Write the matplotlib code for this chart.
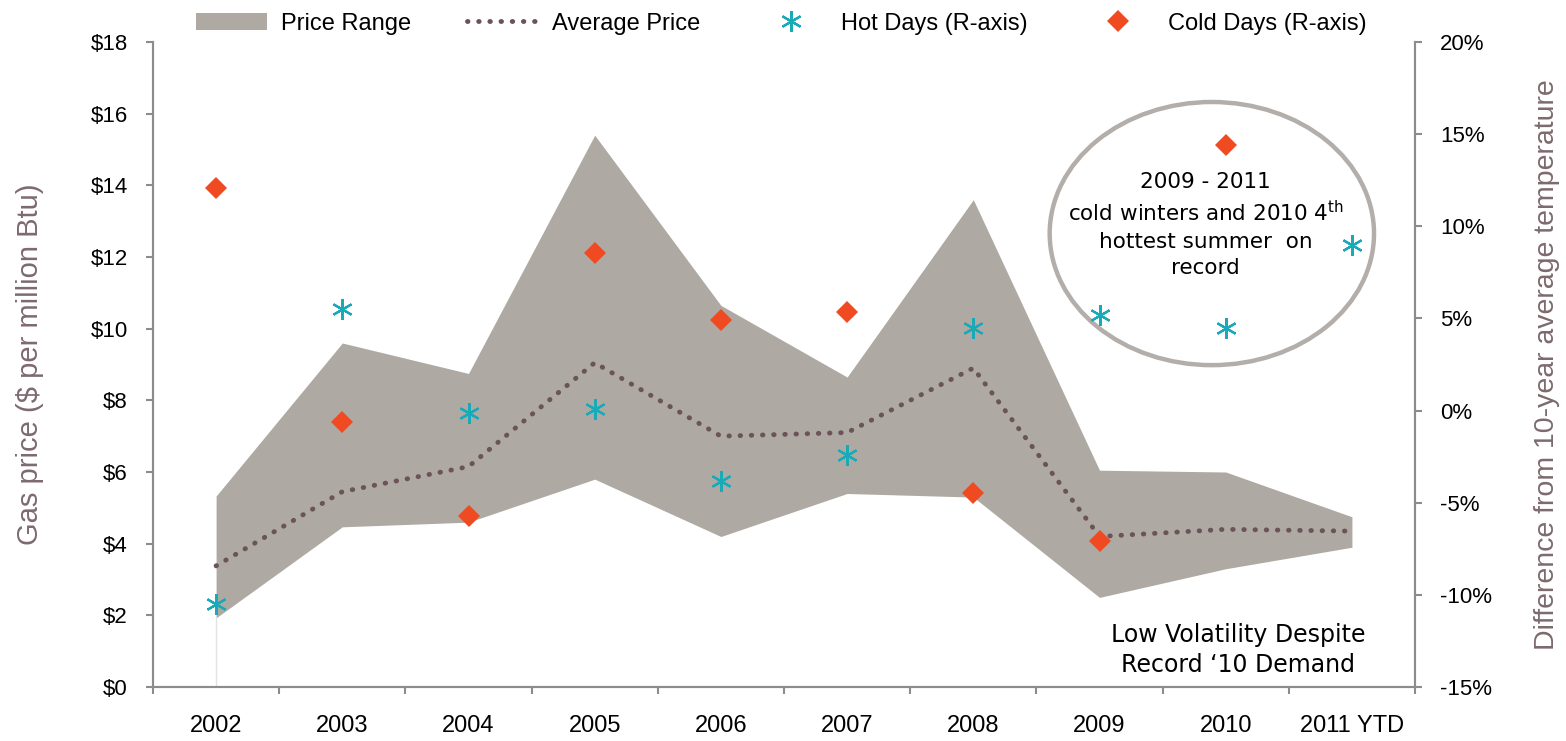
import numpy as np
import matplotlib.pyplot as plt
from matplotlib.patches import Ellipse, Patch
from matplotlib.lines import Line2D

# ---- datos ----
years = ['2002', '2003', '2004', '2005', '2006', '2007', '2008', '2009', '2010', '2011 YTD']
price_high = [5.33, 9.6, 8.75, 15.4, 10.65, 8.65, 13.6, 6.05, 6.0, 4.75]
price_low = [1.93, 4.47, 4.6, 5.8, 4.2, 5.4, 5.3, 2.5, 3.3, 3.9]
price_avg = [3.38, 5.45, 6.15, 9.05, 7.0, 7.1, 8.9, 4.2, 4.4, 4.35]
hot_days = [-10.5, 5.5, -0.15, 0.1, -3.8, -2.4, 4.5, 5.2, 4.5, 9.0]
cold_days = [12.1, -0.6, -5.7, 8.55, 4.9, 5.35, -4.5, -7.1, 14.4, np.nan]

c_fill = '#aea9a3'
c_avg = '#6b5459'
c_hot = '#1aa9b6'
c_cold = '#f04a23'
c_lab = '#7d6a6e'
c_spine = '#8c8c8c'

plt.rcParams['font.family'] = ['Liberation Sans', 'DejaVu Sans']

fig = plt.figure(figsize=(15.66, 7.41), dpi=100)
ax = fig.add_axes([0.0977, 0.0729, 0.8059, 0.8704])
ax2 = ax.twinx()

x = np.arange(len(years))

# rango de precios
ax.fill_between(x, price_low, price_high, color=c_fill, lw=0, zorder=1)
ax.plot([x[0], x[0]], [0, price_low[0]], color='#e3e3e3', lw=1, zorder=1)
ax.plot(x, price_avg, color=c_avg, lw=3.5, ls=(0, (0.1, 2.2)), dash_capstyle='round', zorder=2)

ax.set_xlim(-0.5, len(years) - 0.5)
ax.set_ylim(0, 18)
ax.set_yticks(np.arange(0, 19, 2))
ax.set_yticklabels(['${}'.format(v) for v in range(0, 19, 2)])
ax.set_xticks(x)
ax.set_xticklabels(years)
ax.set_xticks(np.arange(-0.5, len(years), 1), minor=True)
ax.tick_params(axis='x', which='major', length=0, pad=20, labelsize=17)
ax.tick_params(axis='x', which='minor', length=5, width=1.5, color=c_spine, direction='out')
ax.tick_params(axis='y', length=5, width=1.5, color=c_spine, labelsize=16, pad=13)
ax.set_ylabel('Gas price ($ per million Btu)', color=c_lab, fontsize=21, labelpad=34)

# eje derecho: temperatura
ax2.plot(x, hot_days, ls='none', marker=(6, 2, 0), ms=15, mew=1.6, color=c_hot, zorder=5)
ax2.plot(x, cold_days, ls='none', marker='D', ms=11, color=c_cold, mew=0, zorder=5)
ax2.set_ylim(-15, 20)
ax2.set_yticks(np.arange(-15, 21, 5))
ax2.set_yticklabels(['{}%'.format(v) for v in range(-15, 21, 5)])
ax2.tick_params(axis='y', length=5, width=1.5, color=c_spine, labelsize=16, pad=13)
ax2.set_ylabel('Difference from 10-year average temperature', color=c_lab, fontsize=20.5,
               labelpad=30)

for a in (ax, ax2):
    a.spines['top'].set_visible(False)
    for s in ('left', 'right', 'bottom'):
        a.spines[s].set_color(c_spine)
        a.spines[s].set_linewidth(1.5)

# elipse y anotaciones
ell = Ellipse((0.839, 0.703), 0.257, 0.408, transform=ax.transAxes, fill=False,
              edgecolor='#b3aea9', lw=3.2, zorder=3)
ax.add_patch(ell)
ax.text(0.834, 0.716, '2009 - 2011\ncold winters and 2010 4$^{\\mathrm{th}}$\nhottest summer  on\nrecord',
        transform=ax.transAxes, ha='center', va='center', fontsize=15.5,
        family=['DejaVu Sans'], linespacing=1.4)
ax.text(0.86, 0.057, 'Low Volatility Despite\nRecord \u201810 Demand', transform=ax.transAxes,
        ha='center', va='center', fontsize=17, family=['DejaVu Sans'], linespacing=1.3)

# leyenda
handles = [Patch(facecolor=c_fill, edgecolor='none'),
           Line2D([], [], color=c_avg, lw=3.5, ls=(0, (0.1, 2.2)), dash_capstyle='round'),
           Line2D([], [], ls='none', marker=(6, 2, 0), ms=15, mew=1.6, color=c_hot),
           Line2D([], [], ls='none', marker='D', ms=11, color=c_cold, mew=0)]
labels = ['Price Range', 'Average Price', 'Hot Days (R-axis)', 'Cold Days (R-axis)']
fig.legend(handles, labels, loc='center', bbox_to_anchor=(0.499, 0.968), ncol=4,
           frameon=False, fontsize=17, handlelength=3, columnspacing=2.35, handletextpad=0.6)

plt.savefig('out.png', dpi=100)
